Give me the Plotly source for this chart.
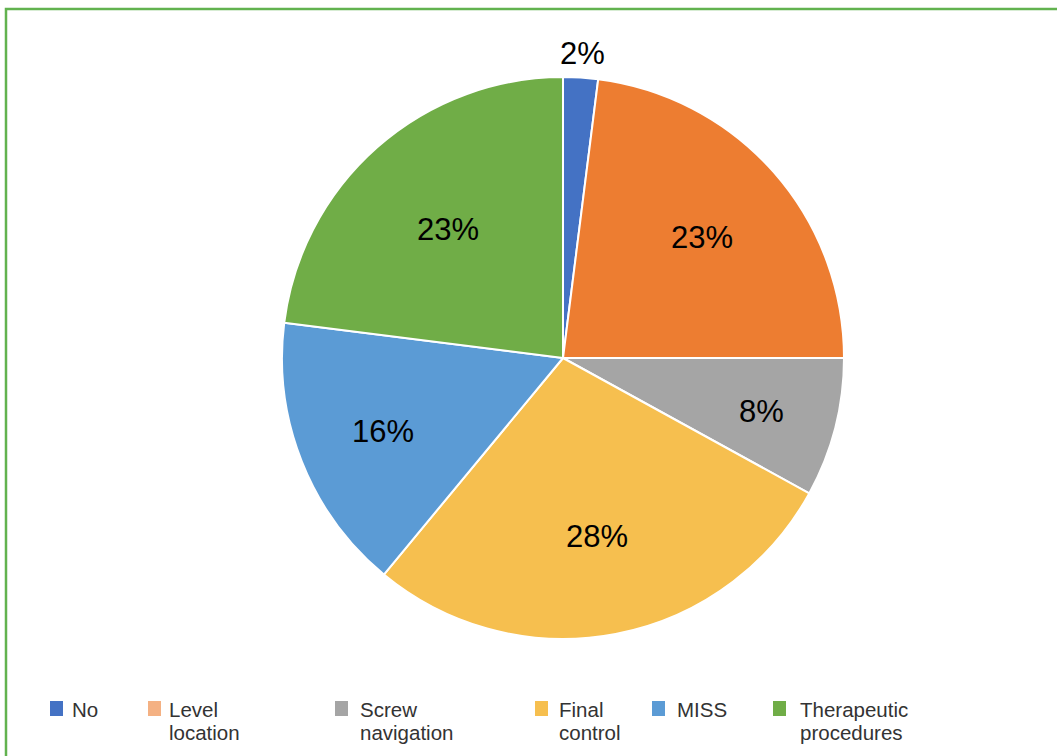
import math
import plotly.graph_objects as go

categories = ["No", "Level location", "Screw navigation", "Final control", "MISS", "Therapeutic procedures"]
values = [2, 23, 8, 28, 16, 23]
legend_labels = ["No", "Level<br>location", "Screw<br>navigation", "Final<br>control", "MISS", "Therapeutic<br>procedures"]

slice_colors = ["#4472C4", "#ED7D31", "#A5A5A5", "#F6BF4F", "#5B9BD5", "#70AD47"]
legend_colors = ["#4472C4", "#F4B183", "#A5A5A5", "#F6BF4F", "#5B9BD5", "#70AD47"]

W, H = 1057, 756
cx, cy, R = 563, 358, 281
FONT = "Liberation Sans, Arial, Helvetica, sans-serif"

fig = go.Figure()
fig.add_trace(go.Pie(
    labels=categories, values=values, sort=False, direction="clockwise", rotation=0,
    marker=dict(colors=slice_colors, line=dict(color="white", width=2)),
    textinfo="none", showlegend=False, hoverinfo="label+percent",
    domain=dict(x=[(cx - R) / W, (cx + R) / W], y=[1 - (cy + R) / H, 1 - (cy - R) / H]),
))

# data labels placed along each slice's mid-angle
label_r = [R + 26, 0.66 * R, 0.73 * R, 0.64 * R, 0.69 * R, 0.62 * R]
total = sum(values)
annotations = []
cum = 0
for i, v in enumerate(values):
    mid = (cum + v / 2) / total * 2 * math.pi
    cum += v
    px = cx + label_r[i] * math.sin(mid)
    py = cy - label_r[i] * math.cos(mid) + 2
    annotations.append(dict(xref="paper", yref="paper", x=px / W, y=1 - py / H,
                            xanchor="center", yanchor="middle", showarrow=False,
                            text=f"{round(100 * v / total)}%",
                            font=dict(family=FONT, size=31, color="black")))

shapes = [dict(type="rect", xref="paper", yref="paper", x0=6 / W, x1=1.01, y0=-0.01, y1=1 - 9 / H,
               line=dict(color="#62B24F", width=2.5), fillcolor="rgba(0,0,0,0)")]
sw_x = [50, 148, 335, 535, 652, 773]
tx_x = [70, 167, 358, 557, 675, 798]
for i, lab in enumerate(legend_labels):
    shapes.append(dict(type="rect", xref="paper", yref="paper",
                       x0=sw_x[i] / W, x1=(sw_x[i] + 13) / W, y0=1 - 716 / H, y1=1 - 701 / H,
                       line=dict(width=0), fillcolor=legend_colors[i]))
    for j, line in enumerate(lab.split("<br>")):
        annotations.append(dict(xref="paper", yref="paper", x=tx_x[i] / W, y=1 - (709 + 23 * j) / H,
                                xanchor="left", yanchor="middle", showarrow=False, text=line,
                                font=dict(family=FONT, size=20.5, color="#333333")))

fig.update_layout(width=W, height=H, margin=dict(l=0, r=0, t=0, b=0),
                  paper_bgcolor="white", plot_bgcolor="white",
                  shapes=shapes, annotations=annotations)
fig.write_html("out.html", config={"displayModeBar": False},
               post_script="document.body.style.margin='0';")
